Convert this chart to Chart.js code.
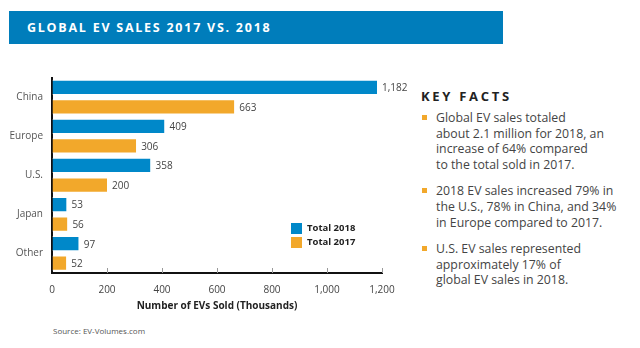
<!DOCTYPE html>
<html>
<head>
<meta charset="utf-8">
<script src="https://cdn.jsdelivr.net/npm/chart.js@4.4.1/dist/chart.umd.min.js"></script>
<style>
  body { margin: 0; width: 640px; height: 348px; background: #fff; position: relative; overflow: hidden; font-family: "Open Sans", sans-serif; }
  .banner { position: absolute; left: 9px; top: 11px; width: 494px; height: 33px; background: #007dbb; }
  .banner h1 { margin: 0; position: absolute; left: 18px; top: 9px; color: #fff; font-size: 12.5px; font-weight: 700; letter-spacing: 1.75px; line-height: 16px; }
  #wrap { position: absolute; left: 0; top: 60px; width: 415px; height: 260px; }
  .legend { position: absolute; left: 291px; top: 221px; font-size: 9.5px; font-weight: 700; color: #222; }
  .legend div { height: 14px; line-height: 12px; display: flex; align-items: center; }
  .legend span { display: inline-block; width: 11px; height: 11px; margin-right: 5px; }
  .source { position: absolute; left: 53px; top: 325px; font-size: 8px; color: #555; }
  .facts { position: absolute; left: 421px; top: 88px; width: 215px; color: #444; }
  .facts h2 { margin: 0 0 6px 0; font-size: 13px; font-weight: 700; letter-spacing: 2.7px; color: #222; line-height: 16px; }
  .facts ul { list-style: none; margin: 0; padding: 0; }
  .facts li { position: relative; padding-left: 15px; font-size: 12.3px; line-height: 15.6px; margin-bottom: 11px; }
  .facts li::before { content: ""; position: absolute; left: 1px; top: 5px; width: 5px; height: 5px; background: #f2a82b; }
</style>
</head>
<body>
<div class="banner"><h1>GLOBAL EV SALES 2017 VS. 2018</h1></div>
<div id="wrap"><canvas id="evChart"></canvas></div>
<div class="legend">
  <div><span style="background:#0088c9"></span>Total 2018</div>
  <div><span style="background:#f2a82b"></span>Total 2017</div>
</div>
<div class="source">Source: EV-Volumes.com</div>
<div class="facts">
  <h2>KEY FACTS</h2>
  <ul>
    <li>Global EV sales totaled<br>about 2.1 million for 2018, an<br>increase of 64% compared<br>to the total sold in 2017.</li>
    <li>2018 EV sales increased 79% in<br>the U.S., 78% in China, and 34%<br>in Europe compared to 2017.</li>
    <li>U.S. EV sales represented<br>approximately 17% of<br>global EV sales in 2018.</li>
  </ul>
</div>
<script>
const regions = ['China', 'Europe', 'U.S.', 'Japan', 'Other'];
const sales2018 = [1182, 409, 358, 53, 97];
const sales2017 = [663, 306, 200, 56, 52];
const xTicks = [0, 200, 400, 600, 800, 1000, 1200];

const fmt = v => v.toLocaleString('en-US');

// value labels just past the end of each bar
const barLabels = {
  id: 'barLabels',
  afterDatasetsDraw(chart) {
    const ctx = chart.ctx;
    ctx.save();
    ctx.font = '10px "Open Sans", sans-serif';
    ctx.fillStyle = '#444';
    ctx.textBaseline = 'middle';
    chart.data.datasets.forEach((ds, i) => {
      chart.getDatasetMeta(i).data.forEach((bar, j) => {
        ctx.fillText(fmt(ds.data[j]), bar.x + 5, bar.y + 1);
      });
    });
    ctx.restore();
  }
};

// short tick marks pointing up from the x axis
const upTicks = {
  id: 'upTicks',
  afterDraw(chart) {
    const ctx = chart.ctx, x = chart.scales.x, bottom = chart.chartArea.bottom;
    ctx.save();
    ctx.strokeStyle = '#999';
    ctx.lineWidth = 1;
    xTicks.slice(1).forEach(v => {
      const px = Math.round(x.getPixelForValue(v)) + 0.5;
      ctx.beginPath();
      ctx.moveTo(px, bottom - 5);
      ctx.lineTo(px, bottom);
      ctx.stroke();
    });
    ctx.restore();
  }
};

new Chart(document.getElementById('evChart'), {
  type: 'bar',
  data: {
    labels: regions,
    datasets: [
      { label: 'Total 2018', data: sales2018, backgroundColor: '#0088c9', borderColor: '#fff', borderWidth: { top: 1, bottom: 1, left: 0, right: 0 }, barPercentage: 0.78, categoryPercentage: 1 },
      { label: 'Total 2017', data: sales2017, backgroundColor: '#f2a82b', borderColor: '#fff', borderWidth: { top: 1, bottom: 1, left: 0, right: 0 }, barPercentage: 0.78, categoryPercentage: 1 }
    ]
  },
  options: {
    indexAxis: 'y',
    responsive: true,
    maintainAspectRatio: false,
    animation: false,
    layout: { padding: { top: 17.5, right: 33, left: 0, bottom: 0 } },
    plugins: { legend: { display: false }, tooltip: { enabled: false } },
    scales: {
      x: {
        min: 0, max: 1200,
        afterBuildTicks: s => { s.ticks = xTicks.map(v => ({ value: v })); },
        afterFit: s => { s.height = 47; },
        grid: { display: true, drawOnChartArea: false, drawTicks: false },
        border: { color: '#111', width: 2 },
        ticks: { padding: 11, color: '#444', font: { family: '"Open Sans", sans-serif', size: 10 }, maxRotation: 0, callback: v => fmt(v) },
        title: { display: true, text: 'Number of EVs Sold (Thousands)', color: '#222', padding: { top: 0, bottom: 8 }, font: { family: '"Open Sans", sans-serif', size: 10, weight: 'bold' } }
      },
      y: {
        afterFit: s => { s.width = 52; },
        grid: { display: true, drawOnChartArea: false, drawTicks: false },
        border: { color: '#111', width: 2 },
        ticks: { padding: 9, color: '#555', font: { family: '"Open Sans", sans-serif', size: 10 } }
      }
    }
  },
  plugins: [barLabels, upTicks]
});
</script>
</body>
</html>
